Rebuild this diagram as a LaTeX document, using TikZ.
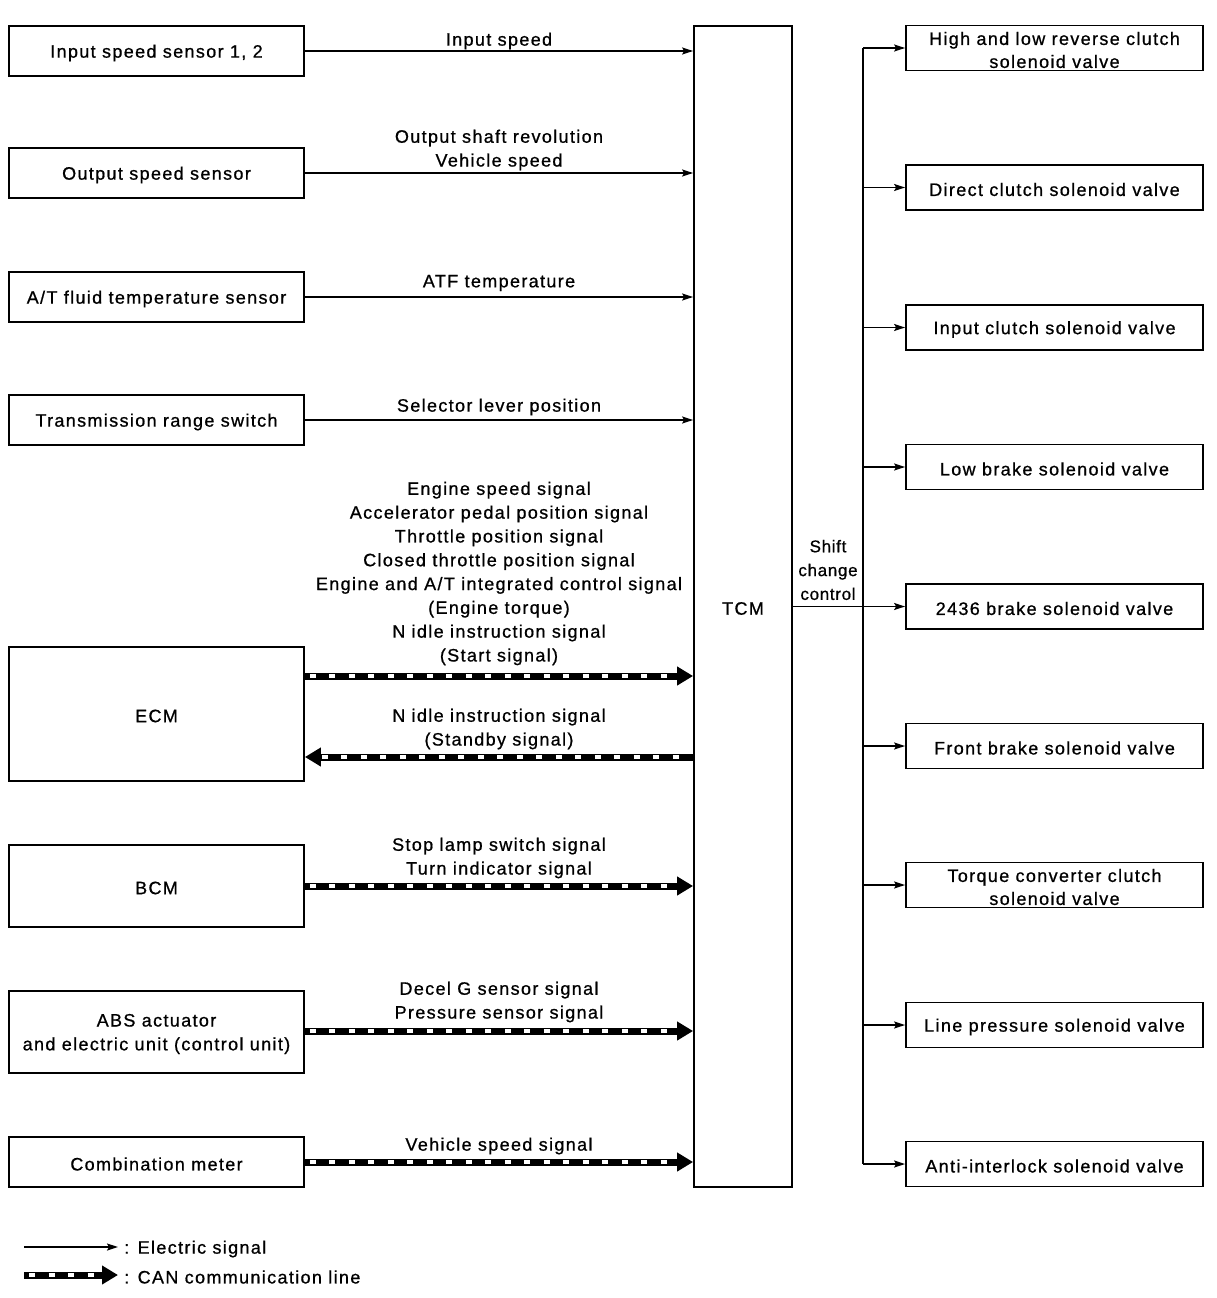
\documentclass[tikz,border=0pt]{standalone}
\usepackage{fontspec}
\setmainfont{Liberation Sans}[LetterSpace=7.5, FakeBold=0.8]
\usetikzlibrary{arrows.meta}
\tikzset{
  lbl/.style={font=\fontsize{18}{23.8}\selectfont, inner sep=0pt, align=center, yshift=-2pt},
  box/.style={font=\fontsize{18}{23.8}\selectfont, inner sep=0pt, align=center, draw, line width=1.8pt},
  lbox/.style={box, minimum width=295pt},
  rbox/.style={box, minimum width=297pt, minimum height=45pt, font=\fontsize{18}{23}\selectfont},
  btext/.style={lbl},
  elec/.style={line width=1.5pt, -{Stealth[length=11pt, width=7pt, inset=2pt]}},
  plain/.style={line width=1.5pt},
  can/.style={line width=7pt, -{Triangle[length=16pt, width=18pt]},
    postaction={draw=white, line width=3.2pt, -, dash pattern=on 6pt off 13.5pt, dash phase=-4pt, shorten >=17pt, shorten <=1pt}},
  canback/.style={line width=7pt, {Triangle[length=16pt, width=18pt]}-,
    postaction={draw=white, line width=3.2pt, -, dash pattern=on 6pt off 13.5pt, shorten <=17pt, shorten >=1pt}},
}
\begin{document}
\begin{tikzpicture}[x=1pt,y=-1pt]
\useasboundingbox (0,0) rectangle (1216,1298);

% left boxes
\node[lbox, minimum height=50pt] (s1) at (156.5,51) {};
\node[lbox, minimum height=50pt] (s2) at (156.5,173) {};
\node[lbox, minimum height=50pt] (s3) at (156.5,297) {};
\node[lbox, minimum height=50pt] (s4) at (156.5,420) {};
\node[lbox, minimum height=134pt] (ecm) at (156.5,714) {};
\node[lbox, minimum height=82pt] (bcm) at (156.5,886) {};
\node[lbox, minimum height=82pt] (abs) at (156.5,1032) {};
\node[lbox, minimum height=50pt] (cmb) at (156.5,1162) {};
\node[btext] (s1t) at (s1) {Input speed sensor 1, 2};
\node[btext] (s2t) at (s2) {Output speed sensor};
\node[btext] (s3t) at (s3) {A/T fluid temperature sensor};
\node[btext] (s4t) at (s4) {Transmission range switch};
\node[btext] (ecmt) at (ecm) {ECM};
\node[btext] (bcmt) at (bcm) {BCM};
\node[btext] (abst) at (abs) {ABS actuator\\and electric unit (control unit)};
\node[btext] (cmbt) at (cmb) {Combination meter};

% TCM
\node[box, minimum width=98pt, minimum height=1161pt] (tcm) at (743,606.5) {};
\node[btext] (tcmt) at (tcm) {TCM};

% right boxes
\node[rbox] (r1) at (1054.5,48) {};
\node[rbox] (r2) at (1054.5,187.5) {};
\node[rbox] (r3) at (1054.5,327.5) {};
\node[rbox] (r4) at (1054.5,467) {};
\node[rbox] (r5) at (1054.5,606.5) {};
\node[rbox] (r6) at (1054.5,746) {};
\node[rbox] (r7) at (1054.5,885) {};
\node[rbox] (r8) at (1054.5,1025) {};
\node[rbox] (r9) at (1054.5,1164) {};
\node[btext, font=\fontsize{18}{23}\selectfont] (r1t) at (r1) {High and low reverse clutch\\solenoid valve};
\node[btext] (r2t) at (r2) {Direct clutch solenoid valve};
\node[btext] (r3t) at (r3) {Input clutch solenoid valve};
\node[btext] (r4t) at (r4) {Low brake solenoid valve};
\node[btext] (r5t) at (r5) {2436 brake solenoid valve};
\node[btext] (r6t) at (r6) {Front brake solenoid valve};
\node[btext, font=\fontsize{18}{23}\selectfont] (r7t) at (r7) {Torque converter clutch\\solenoid valve};
\node[btext] (r8t) at (r8) {Line pressure solenoid valve};
\node[btext] (r9t) at (r9) {Anti-interlock solenoid valve};

% electric signals in
\draw[elec] (s1.east) -- (s1.east -| tcm.west);
\draw[elec] (s2.east) -- (s2.east -| tcm.west);
\draw[elec] (s3.east) -- (s3.east -| tcm.west);
\draw[elec] (s4.east) -- (s4.east -| tcm.west);
\node[lbl] (t1) at (499,39) {Input speed};
\node[lbl] (t2) at (499,148) {Output shaft revolution\\Vehicle speed};
\node[lbl] (t3) at (499,281) {ATF temperature};
\node[lbl] (t4) at (499,405) {Selector lever position};

% CAN lines
\coordinate (ya) at (0,676);
\coordinate (yb) at (0,757);
\coordinate (yc) at (0,1031);
\draw[can] (ecm.east |- ya) -- (tcm.west |- ya);
\draw[canback] (ecm.east |- yb) -- (tcm.west |- yb);
\draw[can] (bcm.east) -- (bcm.east -| tcm.west);
\draw[can] (abs.east |- yc) -- (tcm.west |- yc);
\draw[can] (cmb.east) -- (cmb.east -| tcm.west);
\node[lbl] (t5) at (499,571.5) {Engine speed signal\\Accelerator pedal position signal\\Throttle position signal\\Closed throttle position signal\\Engine and A/T integrated control signal\\(Engine torque)\\N idle instruction signal\\(Start signal)};
\node[lbl] (t6) at (499,727) {N idle instruction signal\\(Standby signal)};
\node[lbl] (t7) at (499,856) {Stop lamp switch signal\\Turn indicator signal};
\node[lbl] (t8) at (499,1000) {Decel G sensor signal\\Pressure sensor signal};
\node[lbl] (t9) at (499,1144) {Vehicle speed signal};

% shift change control bus
\coordinate (bus) at (863,606.5);
\draw[plain] (tcm.east |- bus) -- (bus);
\draw[plain] (r1.west -| bus) -- (r9.west -| bus);
\foreach \r in {r1,r2,r3,r4,r5,r6,r7,r8,r9}
  \draw[elec] (\r.west -| bus) -- (\r.west);
\node[lbl, font=\fontsize{17}{23.8}\selectfont\addfontfeatures{LetterSpace=4}] (sc) at (828,568) {Shift\\change\\control};

% legend
\coordinate (l1a) at (24,1247);
\coordinate (l1b) at (118,1247);
\coordinate (l2a) at (24,1275);
\coordinate (l2b) at (118,1275);
\draw[elec] (l1a) -- (l1b);
\draw[can] (l2a) -- (l2b);
\node[lbl, anchor=west] (lg1) at (124,1247) {: Electric signal};
\node[lbl, anchor=west] (lg2) at (124,1275) {: CAN communication line};
\end{tikzpicture}
\end{document}
